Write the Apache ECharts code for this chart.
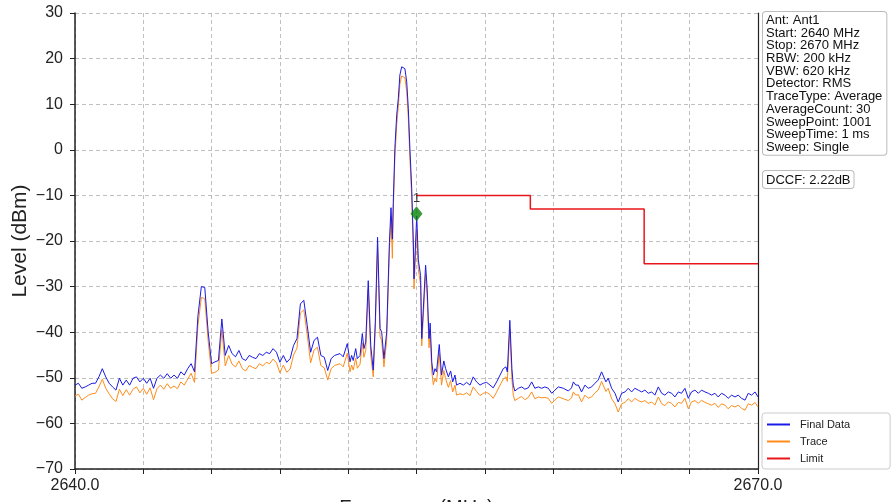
<!DOCTYPE html>
<html>
<head>
<meta charset="utf-8">
<script src="https://cdn.jsdelivr.net/npm/echarts@6/dist/echarts.min.js"></script>
<style>
html,body{margin:0;padding:0;background:#fff;}
#chart{width:893px;height:502px;}
</style>
</head>
<body>
<div id="chart"></div>
<script>
// ---------------- data ----------------
const freqs = [
2640.00,2640.15,2640.30,2640.45,2640.60,2640.75,2640.90,2641.05,2641.20,2641.35,
2641.50,2641.65,2641.80,2641.95,2642.10,2642.25,2642.40,2642.55,2642.70,2642.85,
2643.00,2643.15,2643.30,2643.45,2643.60,2643.75,2643.90,2644.05,2644.20,2644.35,
2644.50,2644.65,2644.80,2644.95,2645.10,2645.25,2645.40,2645.55,2645.70,2645.85,
2646.00,2646.15,2646.30,2646.45,2646.60,2646.75,2646.90,2647.05,2647.20,2647.35,
2647.50,2647.65,2647.80,2647.95,2648.10,2648.25,2648.40,2648.55,2648.70,2648.85,
2649.00,2649.15,2649.30,2649.45,2649.60,2649.75,2649.90,2650.05,2650.20,2650.35,
2650.50,2650.65,2650.80,2650.95,2651.10,2651.25,2651.40,
2651.64,2651.78,2651.96,2652.08,2652.15,2652.22,2652.33,2652.40,2652.52,2652.62,
2652.69,2652.77,2652.88,2652.99,2653.10,2653.19,2653.29,2653.40,2653.47,2653.57,
2653.69,2653.81,2653.88,2653.94,2653.98,2654.05,2654.13,2654.20,2654.27,2654.35,
2654.42,2654.49,2654.57,2654.64,2654.71,2654.79,2654.86,2654.89,2655.01,2655.08,
2655.14,2655.18,2655.23,2655.40,2655.47,2655.55,2655.60,2655.67,2655.74,2655.81,
2655.88,2656.00,2656.10,2656.20,2656.28,2656.40,2656.50,2656.59,2656.69,2656.76,
2656.91,2657.06,2657.20,2657.35,2657.49,2657.64,2657.79,2657.93,2658.08,2658.23,
2658.37,2658.52,2658.67,2658.81,2658.93,2658.99,2659.10,2659.19,2659.25,2659.32,
2659.47,2659.62,2659.76,2659.91,2660.06,2660.20,2660.35,2660.50,2660.64,2660.79,
2660.94,2661.08,2661.23,2661.45,2661.67,2661.81,2661.89,2662.00,2662.11,2662.25,
2662.40,2662.54,2662.69,2662.84,2662.98,2663.13,2663.20,2663.32,2663.42,2663.57,
2663.72,2663.86,2664.01,2664.16,2664.30,2664.45,2664.59,2664.74,2664.89,2665.03,
2665.18,2665.33,2665.47,2665.62,2665.77,2665.91,2666.06,2666.21,2666.35,2666.50,
2666.64,2666.79,2666.94,2667.08,2667.23,2667.38,2667.52,2667.67,2667.82,2667.96,
2668.11,2668.25,2668.40,2668.55,2668.69,2668.84,2668.99,2669.13,2669.28,2669.43,
2669.57,2669.72,2669.87,2670.00
];

const finalData = [
-51.6,-51.2,-52.3,-52.0,-51.6,-51.2,-51.2,-49.8,-48.0,-49.8,
-51.2,-52.0,-52.7,-50.1,-51.6,-50.5,-51.6,-50.1,-49.8,-50.9,
-50.1,-51.2,-50.1,-52.3,-50.1,-49.4,-50.1,-49.1,-50.1,-49.4,
-50.1,-48.7,-49.4,-48.0,-46.9,-48.7,-36.4,-30.0,-30.2,-40.0,
-46.9,-46.5,-46.2,-37.1,-45.1,-42.9,-44.7,-45.4,-44.0,-45.8,
-46.2,-45.1,-45.5,-45.8,-44.7,-45.1,-44.4,-44.7,-43.6,-44.4,
-46.6,-45.1,-46.6,-45.8,-42.9,-41.4,-33.8,-33.0,-38.5,-44.4,
-41.8,-41.1,-45.1,-45.5,-48.4,-45.8,-45.1,
-44.7,-45.4,-42.5,-46.5,-45.1,-46.2,-43.6,-45.8,-45.1,-40.3,
-43.6,-42.2,-28.7,-42.9,-48.3,-37.8,-19.2,-39.2,-39.9,-45.8,
-40.0,-20.3,-12.7,-19.6,-11.6,0.3,7.6,11.2,16.4,18.2,
18.5,17.8,14.9,9.1,0.3,-8.5,-20.1,-28.3,-14.5,-24.1,
-24.0,-27.6,-41.4,-25.3,-30.5,-41.4,-38.0,-46.5,-49.4,-48.0,
-48.7,-42.7,-49.4,-46.3,-48.0,-49.8,-48.5,-50.9,-49.4,-51.6,
-51.2,-51.6,-51.0,-51.6,-49.8,-50.9,-51.6,-51.2,-51.0,-51.6,
-52.2,-50.9,-49.4,-48.0,-47.6,-48.7,-37.4,-48.0,-51.6,-52.9,
-52.3,-52.0,-52.5,-52.2,-50.9,-52.3,-52.0,-52.3,-52.0,-52.3,
-53.4,-52.7,-52.0,-52.3,-52.9,-52.2,-50.9,-51.6,-51.6,-53.1,
-51.6,-52.3,-52.0,-51.2,-50.5,-48.7,-48.5,-50.9,-50.1,-52.3,
-53.4,-55.3,-53.4,-53.1,-52.3,-53.1,-52.3,-52.7,-53.1,-52.7,
-53.4,-53.1,-53.8,-52.0,-53.4,-53.8,-53.1,-53.4,-54.2,-53.1,
-53.4,-52.3,-54.5,-53.1,-52.7,-53.4,-52.7,-53.1,-53.4,-53.8,
-53.4,-54.2,-53.4,-53.8,-54.5,-53.8,-54.2,-53.8,-54.5,-54.9,
-53.4,-53.8,-53.1,-54.2
];

const trace = [
-54.0,-53.6,-54.9,-54.3,-53.8,-53.5,-53.4,-52.0,-50.3,-52.3,
-53.5,-54.6,-55.2,-52.5,-53.9,-52.6,-53.8,-52.5,-52.0,-53.3,
-52.3,-53.6,-52.2,-54.8,-52.4,-51.6,-52.5,-51.3,-52.3,-51.8,
-52.4,-50.9,-51.6,-50.3,-49.0,-51.0,-38.5,-32.4,-32.6,-42.0,
-49.0,-48.8,-48.3,-39.5,-47.4,-45.1,-47.0,-47.6,-46.3,-48.0,
-48.5,-47.3,-47.7,-48.0,-46.9,-47.4,-46.6,-46.9,-45.9,-46.7,
-48.9,-47.2,-48.8,-48.1,-45.0,-43.5,-35.8,-35.1,-40.6,-46.7,
-43.9,-43.3,-47.3,-47.8,-50.5,-48.0,-47.3,
-46.9,-47.6,-44.6,-48.7,-47.2,-48.3,-45.7,-47.9,-47.0,-42.3,
-45.5,-44.0,-30.6,-45.0,-49.8,-39.5,-21.3,-41.0,-41.8,-47.6,
-41.8,-22.0,-14.6,-23.8,-13.5,-1.8,5.5,9.3,14.4,16.2,
16.5,15.8,12.8,7.0,-1.8,-10.6,-22.3,-30.5,-17.5,-26.2,
-26.0,-29.6,-43.0,-27.2,-32.4,-43.4,-40.0,-48.6,-51.5,-50.2,
-50.9,-44.7,-51.6,-48.4,-50.2,-52.1,-50.6,-53.1,-51.6,-53.8,
-53.5,-53.7,-53.3,-53.9,-52.0,-53.0,-53.9,-53.4,-53.2,-53.7,
-54.5,-53.1,-51.6,-50.3,-49.8,-50.8,-39.3,-50.3,-53.8,-55.0,
-54.5,-54.1,-54.8,-54.3,-53.1,-54.6,-54.2,-54.4,-54.3,-54.5,
-55.6,-54.9,-54.2,-54.6,-55.0,-54.4,-53.1,-53.8,-53.7,-55.3,
-53.8,-54.5,-54.2,-53.3,-52.7,-50.8,-50.6,-53.0,-52.3,-54.6,
-55.7,-57.5,-55.7,-55.4,-54.6,-55.3,-54.5,-55.0,-55.3,-55.0,
-55.6,-55.3,-56.0,-54.2,-55.7,-56.1,-55.3,-55.6,-56.4,-55.4,
-55.6,-54.5,-56.8,-55.3,-55.0,-55.6,-54.9,-55.4,-55.7,-56.0,
-55.6,-56.5,-55.7,-56.0,-56.8,-56.1,-56.4,-56.0,-56.7,-57.1,
-55.7,-56.0,-55.4,-56.4
];

const limitFreqs  = [2655, 2660, 2660, 2665, 2665, 2670];
const limitLevels = [-10, -10, -13, -13, -25, -25];

const markerFreq = 2655.0;
const markerLevel = -14.0;

const xTickLabels = ['2640.0', '2670.0'];
const yTicks = [-70, -60, -50, -40, -30, -20, -10, 0, 10, 20, 30];

const infoLines = [
  'Ant: Ant1', 'Start: 2640 MHz', 'Stop: 2670 MHz', 'RBW: 200 kHz', 'VBW: 620 kHz',
  'Detector: RMS', 'TraceType: Average', 'AverageCount: 30', 'SweepPoint: 1001',
  'SweepTime: 1 ms', 'Sweep: Single'
];
const dccfText = 'DCCF: 2.22dB';

// ---------------- chart ----------------
const pair = (xs, ys) => xs.map((x, i) => [x, ys[i]]);
const FONT = 'Liberation Sans, Arial, sans-serif';
const fmtNum = v => (v < 0 ? '\u2212' + Math.abs(v) : String(v));

const chart = echarts.init(document.getElementById('chart'), null, {renderer: 'canvas'});
chart.setOption({
  animation: false,
  backgroundColor: '#ffffff',
  grid: {left: 75, right: 135, top: 13, bottom: 33, containLabel: false, outerBoundsMode: 'none'},
  xAxis: {
    type: 'value', min: 2640, max: 2670, interval: 3,
    name: 'Frequency (MHz)', nameLocation: 'middle', nameGap: 29, nameMoveOverlap: false,
    nameTextStyle: {fontFamily: FONT, fontSize: 20, color: '#222'},
    axisLine: {show: true, onZero: false, lineStyle: {color: '#222', width: 1.5}},
    axisTick: {show: true, inside: false, length: 5, lineStyle: {color: '#222', width: 1}},
    axisLabel: {
      fontFamily: FONT, fontSize: 16, color: '#222', margin: 9,
      formatter: v => {
        const s = v.toFixed(1);
        return xTickLabels.indexOf(s) >= 0 ? s : '';
      }
    },
    splitLine: {show: true, lineStyle: {color: '#b0b0b0', type: [4, 3], width: 0.8}}
  },
  yAxis: [{
    type: 'value', min: yTicks[0], max: yTicks[yTicks.length - 1], interval: 10,
    name: 'Level (dBm)', nameLocation: 'middle', nameGap: 44, nameMoveOverlap: false,
    nameTextStyle: {fontFamily: FONT, fontSize: 21, color: '#222'},
    axisLine: {show: true, onZero: false, lineStyle: {color: '#222', width: 1.5}},
    axisTick: {show: true, inside: false, length: 5, lineStyle: {color: '#222', width: 1}},
    axisLabel: {fontFamily: FONT, fontSize: 16, color: '#222', margin: 12, formatter: fmtNum},
    splitLine: {show: true, lineStyle: {color: '#b0b0b0', type: [4, 3], width: 0.8}}
  }, {
    type: 'value', position: 'right', min: -70, max: 30, interval: 10,
    axisLine: {show: true, onZero: false, lineStyle: {color: '#222', width: 1.2}},
    axisTick: {show: false}, axisLabel: {show: false}, splitLine: {show: false}
  }],
  legend: {
    left: 762, top: 413, orient: 'vertical',
    data: [
      {name: 'Final Data', icon: 'rect'},
      {name: 'Trace', icon: 'rect'},
      {name: 'Limit', icon: 'rect'}
    ],
    itemWidth: 23, itemHeight: 2, itemGap: 6,
    padding: [6, 40, 5, 5],
    textStyle: {fontFamily: FONT, fontSize: 11, color: '#222', padding: [0, 0, 0, 5]},
    borderColor: '#cccccc', borderWidth: 1, borderRadius: 3, backgroundColor: '#fff'
  },
  series: [
    {
      name: 'Final Data', type: 'line', z: 4, showSymbol: false, symbol: 'none',
      data: pair(freqs, finalData),
      lineStyle: {color: '#1a1ae6', width: 1}, itemStyle: {color: '#1a1ae6'}
    },
    {
      name: 'Trace', type: 'line', z: 3, showSymbol: false, symbol: 'none',
      data: pair(freqs, trace),
      lineStyle: {color: '#ff8c1a', width: 1}, itemStyle: {color: '#ff8c1a'}
    },
    {
      name: 'Limit', type: 'line', z: 5, showSymbol: false, symbol: 'none',
      data: pair(limitFreqs, limitLevels),
      lineStyle: {color: '#e8161b', width: 1.5}, itemStyle: {color: '#e8161b'}
    },
    {
      name: 'Marker', type: 'scatter', z: 6,
      data: [[markerFreq, markerLevel]],
      symbol: 'diamond', symbolSize: [12, 15],
      itemStyle: {color: '#068206'},
      label: {show: true, position: 'top', distance: 1, formatter: '1',
              fontFamily: FONT, fontSize: 13, color: '#000'}
    }
  ],
  graphic: [
    {
      type: 'text', left: 762, top: 11, z: 100,
      style: {
        text: infoLines.join('\n'),
        fontFamily: FONT, fontSize: 13, lineHeight: 12.7, fill: '#111',
        backgroundColor: '#fff', borderColor: '#bbbbbb', borderWidth: 1, borderRadius: 3,
        padding: [2, 4, 1, 3]
      }
    },
    {
      type: 'text', left: 762, top: 170, z: 100,
      style: {
        text: dccfText,
        fontFamily: FONT, fontSize: 13, lineHeight: 14, fill: '#111',
        backgroundColor: '#fff', borderColor: '#bbbbbb', borderWidth: 1, borderRadius: 3,
        padding: [2, 3, 1, 3]
      }
    }
  ]
});
</script>
</body>
</html>
